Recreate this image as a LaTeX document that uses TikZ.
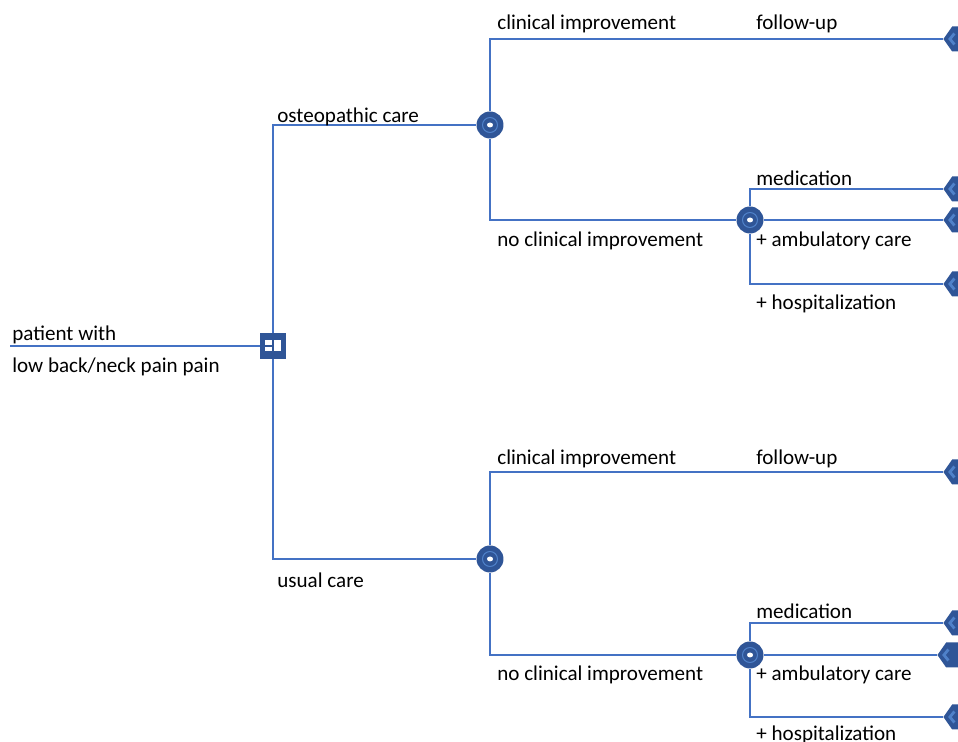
\documentclass[tikz,border=0pt]{standalone}
\usepackage{fontspec}
\setmainfont{Carlito}
\usepackage{xcolor}
\usetikzlibrary{shapes.symbols, positioning}
\definecolor{treeline}{HTML}{4472C4}
\definecolor{nodeblue}{HTML}{2F5597}
\definecolor{ringblue}{HTML}{4F81C9}
\tikzset{
  branch/.style={draw=treeline,line width=0.75pt},
  decision/.style={rectangle,fill=nodeblue,minimum size=0.52cm,inner sep=0pt,
    path picture={
      \fill[white] ([xshift=-0.16cm,yshift=-0.11cm]path picture bounding box.center)
        rectangle ([xshift=0.16cm,yshift=0.11cm]path picture bounding box.center);
      \draw[nodeblue,line width=0.9pt] ([yshift=-0.11cm]path picture bounding box.center)
        -- ([yshift=0.11cm]path picture bounding box.center);
      \draw[nodeblue,line width=0.9pt] ([xshift=-0.16cm]path picture bounding box.center)
        -- (path picture bounding box.center);}},
  chance/.style={circle,fill=nodeblue,minimum size=0.54cm,inner sep=0pt,
    path picture={
      \draw[ringblue,line width=0.6pt] (path picture bounding box.center) circle (0.15cm);
      \fill[white] (path picture bounding box.center) ellipse (0.06cm and 0.05cm);}},
  terminal/.style={signal,signal to=west,signal pointer angle=110,fill=nodeblue,
    minimum height=0.5cm,minimum width=0.8cm,inner sep=0pt,anchor=west,
    path picture={
      \draw[ringblue,line width=1.6pt] ([xshift=0.22cm,yshift=0.11cm]path picture bounding box.west)
        -- ([xshift=0.13cm]path picture bounding box.west)
        -- ([xshift=0.22cm,yshift=-0.11cm]path picture bounding box.west);}},
  lbl/.style={anchor=base west,inner sep=0pt,font=\fontsize{12}{14}\selectfont}
}

\begin{document}
\begin{tikzpicture}[x=0.02cm,y=-0.02cm]
  \useasboundingbox (0,0) rectangle (958,742);
  \clip (0,0) rectangle (958,742);

  % decision and chance nodes
  \coordinate (root) at (10,346);
  \node[decision] (dec) at (273,346) {};
  \node[chance] (c1) at (490,125) {};
  \node[chance] (c2) at (750,220) {};
  \node[chance] (c3) at (490,559) {};
  \node[chance] (c4) at (750,655) {};

  % end nodes
  \node[terminal] (t1) at (943,39) {};
  \node[terminal] (t2a) at (943,189) {};
  \node[terminal] (t2b) at (943,220) {};
  \node[terminal] (t2c) at (943,284) {};
  \node[terminal] (t3) at (943,472) {};
  \node[terminal] (t4a) at (943,623) {};
  \node[terminal] (t4b) at (937,655) {};
  \node[terminal] (t4c) at (943,717) {};

  \draw[branch] (root) -- (dec);
  \draw[branch] (dec) |- (c1);
  \draw[branch] (dec) |- (c3);
  \draw[branch] (c1) |- (t1);
  \draw[branch] (c1) |- (c2);
  \draw[branch] (c2) |- (t2a);
  \draw[branch] (c2) -- (t2b);
  \draw[branch] (c2) |- (t2c);
  \draw[branch] (c3) |- (t3);
  \draw[branch] (c3) |- (c4);
  \draw[branch] (c4) |- (t4a);
  \draw[branch] (c4) -- (t4b);
  \draw[branch] (c4) |- (t4c);

  % labels
  \node[lbl] (pat1) at (12,341) {patient with};
  \node[lbl] (pat2) at (12,373) {low back/neck pain pain};
  \node[lbl] (osteo) at (277,123) {osteopathic care};
  \node[lbl] (usual) at (277,588) {usual care};
  \node[lbl] (ci1) at (497,30) {clinical improvement};
  \node[lbl] (fu1) at (756,30) {follow-up};
  \node[lbl] (nci1) at (497,247) {no clinical improvement};
  \node[lbl] (med1) at (756,186) {medication};
  \node[lbl] (amb1) at (756,247) {+ ambulatory care};
  \node[lbl] (hosp1) at (756,310) {+ hospitalization};
  \node[lbl] (ci2) at (497,465) {clinical improvement};
  \node[lbl] (fu2) at (756,465) {follow-up};
  \node[lbl] (nci2) at (497,681) {no clinical improvement};
  \node[lbl] (med2) at (756,619) {medication};
  \node[lbl] (amb2) at (756,681) {+ ambulatory care};
  \node[lbl] (hosp2) at (756,741) {+ hospitalization};
\end{tikzpicture}
\end{document}
